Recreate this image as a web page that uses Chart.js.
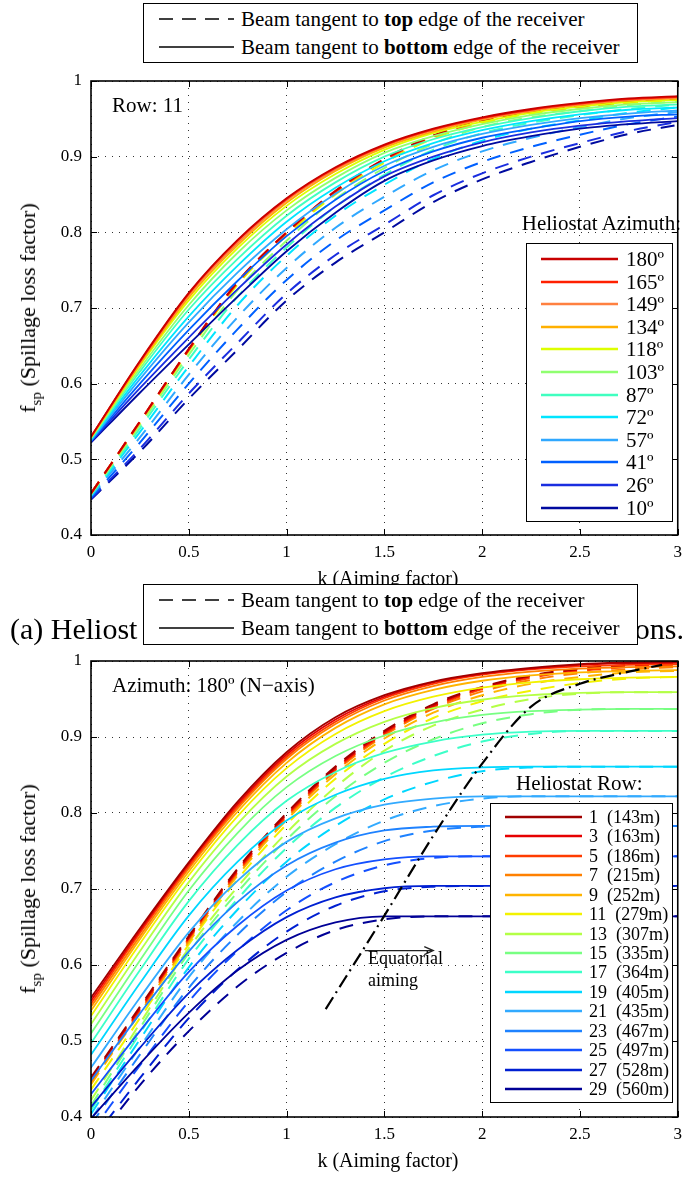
<!DOCTYPE html>
<html>
<head>
<meta charset="utf-8">
<script src="https://cdn.jsdelivr.net/npm/chart.js@4.4.1/dist/chart.umd.min.js"></script>
<style>
body { margin: 0; background: #fff; }
#page { position: relative; width: 689px; height: 1177px; overflow: hidden; font-family: "Liberation Serif", "Times New Roman", serif; color: #000; }
canvas { position: absolute; left: 0; }
.box { position: absolute; background: #fff; border: 1.5px solid #000; box-sizing: border-box; z-index: 3; }
.txt { position: absolute; white-space: pre; line-height: 1; z-index: 2; }
.mid { transform: translateY(-50%); }
.ylab { position: absolute; white-space: pre; font-size: 22px; transform: translate(-50%, -50%) rotate(-90deg); z-index: 2; }
.ylab sub { font-size: 15px; vertical-align: -6px; }
.xlab { position: absolute; font-size: 20px; transform: translate(-50%, -50%); white-space: pre; z-index: 2; }
.row { position: absolute; left: 0; width: 100%; height: 0; }
.row svg { position: absolute; top: -3px; }
.row span { position: absolute; transform: translateY(-50%); white-space: pre; line-height: 1; }
#caption { position: absolute; left: 10px; width: 674px; top: 629px; transform: translateY(-50%); font-size: 30px; display: flex; justify-content: space-between; white-space: pre; z-index: 2; }
</style>
</head>
<body>
<div id="page">
  <canvas id="topChart" width="689" height="600" style="top:0"></canvas>
  <canvas id="bottomChart" width="689" height="577" style="top:600px"></canvas>

  <div class="box" id="keyTop" style="left:143px;top:3px;width:495px;height:60px"></div>
  <div id="caption"><span>(a) Heliost</span><span>ats at different azimuth posit</span><span>ions.</span></div>
  <div class="box" id="keyBottom" style="left:143px;top:584px;width:495px;height:61px"></div>

  <div class="ylab" style="left:30px;top:308px">f<sub>sp</sub> (Spillage loss factor)</div>
  <div class="ylab" style="left:30px;top:889px">f<sub>sp</sub> (Spillage loss factor)</div>
  <div class="xlab" style="left:388px;top:578px">k (Aiming factor)</div>
  <div class="xlab" style="left:388px;top:1160px">k (Aiming factor)</div>

  <div class="txt mid" style="left:112px;top:105px;font-size:21px">Row: 11</div>
  <div class="txt mid" style="right:8px;top:223px;font-size:21px">Heliostat Azimuth:</div>
  <div class="box" id="legendAz" style="left:526px;top:243px;width:147px;height:279px"></div>

  <div class="txt mid" style="left:112px;top:685px;font-size:21px">Azimuth: 180º (N−axis)</div>
  <div class="txt mid" style="left:516px;top:783px;font-size:21px">Heliostat Row:</div>
  <div class="box" id="legendRow" style="left:490px;top:803px;width:183px;height:300px"></div>
  <div class="txt mid" style="left:368px;top:958px;font-size:18px">Equatorial</div>
  <div class="txt mid" style="left:368px;top:980px;font-size:18px">aiming</div>
</div>

<script>
// aiming factor k, shared by every curve
var kValues = [0, 0.25, 0.5, 0.75, 1, 1.25, 1.5, 1.75, 2, 2.25, 2.5, 2.75, 3];

// ---- (a) Row 11, several heliostat azimuths ----
var azLabels = ['180º','165º','149º','134º','118º','103º','87º','72º','57º','41º','26º','10º'];
var azColors = ['#C80000','#FF2000','#FF8040','#FFB000','#DDFF00','#90FF70','#40FFC0','#00E5FF','#30A8FF','#0060FF','#1A2EE0','#000A9F'];

// beam tangent to bottom edge (solid)
var azSolid180 = [0.530,0.630,0.720,0.790,0.845,0.886,0.916,0.937,0.952,0.963,0.971,0.977,0.980];
var azSolid165 = [0.530,0.629,0.719,0.789,0.844,0.885,0.915,0.936,0.951,0.962,0.970,0.976,0.979];
var azSolid149 = [0.530,0.628,0.717,0.786,0.842,0.883,0.914,0.935,0.950,0.961,0.969,0.975,0.978];
var azSolid134 = [0.529,0.626,0.714,0.783,0.839,0.881,0.912,0.933,0.949,0.960,0.968,0.974,0.977];
var azSolid118 = [0.529,0.624,0.710,0.779,0.835,0.877,0.909,0.931,0.946,0.958,0.966,0.972,0.975];
var azSolid103 = [0.528,0.620,0.704,0.773,0.829,0.872,0.905,0.927,0.943,0.955,0.963,0.969,0.972];
var azSolid87  = [0.527,0.616,0.698,0.765,0.822,0.866,0.900,0.923,0.939,0.951,0.960,0.966,0.969];
var azSolid72  = [0.526,0.611,0.689,0.756,0.814,0.859,0.894,0.918,0.935,0.947,0.956,0.962,0.965];
var azSolid57  = [0.525,0.606,0.681,0.747,0.804,0.851,0.888,0.913,0.930,0.942,0.951,0.957,0.961];
var azSolid41  = [0.524,0.600,0.671,0.736,0.795,0.843,0.881,0.907,0.925,0.937,0.947,0.953,0.956];
var azSolid26  = [0.523,0.594,0.661,0.725,0.784,0.834,0.874,0.900,0.919,0.932,0.941,0.947,0.951];
var azSolid10  = [0.522,0.588,0.652,0.715,0.775,0.826,0.868,0.895,0.914,0.927,0.937,0.943,0.947];

// beam tangent to top edge (dashed)
var azDash180 = [0.455,0.550,0.646,0.735,0.800,0.855,0.897,0.928,0.948,0.960,0.967,0.973,0.977];
var azDash165 = [0.455,0.550,0.645,0.734,0.800,0.854,0.896,0.927,0.948,0.960,0.967,0.973,0.977];
var azDash149 = [0.455,0.549,0.645,0.734,0.799,0.854,0.896,0.927,0.947,0.959,0.966,0.973,0.977];
var azDash134 = [0.455,0.549,0.645,0.733,0.798,0.853,0.895,0.926,0.946,0.959,0.966,0.972,0.976];
var azDash118 = [0.455,0.548,0.643,0.731,0.796,0.850,0.892,0.924,0.944,0.957,0.964,0.971,0.975];
var azDash103 = [0.454,0.545,0.638,0.724,0.789,0.844,0.885,0.917,0.939,0.952,0.960,0.968,0.973];
var azDash87  = [0.453,0.541,0.632,0.715,0.780,0.834,0.876,0.909,0.931,0.945,0.955,0.963,0.969];
var azDash72  = [0.452,0.536,0.623,0.704,0.769,0.822,0.863,0.897,0.921,0.937,0.948,0.958,0.965];
var azDash57  = [0.451,0.529,0.612,0.688,0.753,0.806,0.847,0.882,0.907,0.925,0.939,0.951,0.959];
var azDash41  = [0.449,0.522,0.600,0.672,0.737,0.789,0.829,0.866,0.893,0.913,0.929,0.943,0.953];
var azDash26  = [0.448,0.514,0.587,0.654,0.719,0.770,0.810,0.849,0.878,0.900,0.918,0.934,0.946];
var azDash10  = [0.447,0.510,0.580,0.645,0.710,0.760,0.800,0.840,0.870,0.893,0.913,0.930,0.942];

// ---- (b) Azimuth 180º, several rows ----
var rowLabels = ['1  (143m)','3  (163m)','5  (186m)','7  (215m)','9  (252m)','11  (279m)','13  (307m)','15  (335m)','17  (364m)','19  (405m)','21  (435m)','23  (467m)','25  (497m)','27  (528m)','29  (560m)'];
var rowColors = ['#A00000','#E60000','#FF3C00','#FF8000','#FFB400','#F2F200','#B4FF46','#78FF82','#3CFFC8','#00D7FF','#32AAFF','#1E82FF','#1450FF','#0020D2','#000096'];

var rowSolid1  = [0.557,0.648,0.735,0.815,0.880,0.926,0.955,0.973,0.984,0.991,0.996,0.998,0.999];
var rowSolid3  = [0.553,0.645,0.733,0.812,0.877,0.923,0.953,0.972,0.983,0.990,0.995,0.997,0.998];
var rowSolid5  = [0.549,0.642,0.730,0.809,0.874,0.920,0.951,0.970,0.982,0.989,0.993,0.995,0.996];
var rowSolid7  = [0.545,0.638,0.727,0.806,0.871,0.917,0.948,0.967,0.979,0.986,0.990,0.992,0.993];
var rowSolid9  = [0.540,0.634,0.723,0.802,0.866,0.912,0.943,0.962,0.974,0.981,0.985,0.987,0.988];
var rowSolid11 = [0.533,0.628,0.718,0.796,0.859,0.904,0.934,0.953,0.965,0.972,0.976,0.978,0.979];
var rowSolid13 = [0.522,0.618,0.709,0.786,0.848,0.891,0.920,0.938,0.949,0.955,0.958,0.959,0.959];
var rowSolid15 = [0.510,0.606,0.698,0.774,0.834,0.875,0.902,0.919,0.929,0.934,0.936,0.937,0.937];
var rowSolid17 = [0.497,0.593,0.684,0.758,0.816,0.854,0.879,0.894,0.903,0.907,0.908,0.908,0.908];
var rowSolid19 = [0.482,0.576,0.665,0.736,0.790,0.824,0.845,0.856,0.860,0.861,0.861,0.861,0.861];
var rowSolid21 = [0.465,0.557,0.643,0.711,0.762,0.793,0.811,0.819,0.822,0.822,0.822,0.822,0.822];
var rowSolid23 = [0.448,0.536,0.618,0.683,0.731,0.761,0.777,0.782,0.783,0.783,0.783,0.783,0.783];
var rowSolid25 = [0.430,0.513,0.591,0.652,0.698,0.726,0.739,0.743,0.743,0.743,0.743,0.743,0.743];
var rowSolid27 = [0.413,0.491,0.563,0.620,0.663,0.689,0.701,0.704,0.704,0.704,0.704,0.704,0.704];
var rowSolid29 = [0.398,0.470,0.537,0.593,0.633,0.656,0.664,0.664,0.664,0.664,0.664,0.664,0.664];

var rowDash1  = [0.452,0.545,0.638,0.727,0.800,0.861,0.908,0.943,0.966,0.981,0.990,0.995,0.998];
var rowDash3  = [0.450,0.543,0.636,0.725,0.798,0.859,0.906,0.941,0.965,0.980,0.989,0.994,0.997];
var rowDash5  = [0.448,0.541,0.635,0.723,0.796,0.857,0.904,0.939,0.963,0.978,0.987,0.992,0.995];
var rowDash7  = [0.446,0.539,0.633,0.721,0.794,0.855,0.902,0.937,0.960,0.975,0.984,0.989,0.992];
var rowDash9  = [0.443,0.537,0.630,0.718,0.791,0.851,0.898,0.932,0.955,0.970,0.979,0.985,0.987];
var rowDash11 = [0.436,0.530,0.627,0.713,0.785,0.845,0.891,0.925,0.947,0.961,0.971,0.977,0.979];
var rowDash13 = [0.422,0.523,0.622,0.703,0.774,0.834,0.882,0.915,0.936,0.950,0.957,0.959,0.959];
var rowDash15 = [0.415,0.517,0.616,0.696,0.765,0.822,0.866,0.897,0.918,0.930,0.936,0.937,0.937];
var rowDash17 = [0.409,0.510,0.608,0.687,0.754,0.807,0.847,0.875,0.894,0.904,0.908,0.908,0.908];
var rowDash19 = [0.404,0.502,0.597,0.673,0.736,0.783,0.818,0.841,0.855,0.860,0.861,0.861,0.861];
var rowDash21 = [0.397,0.492,0.584,0.657,0.716,0.759,0.790,0.809,0.819,0.822,0.822,0.822,0.822];
var rowDash23 = [0.390,0.482,0.570,0.640,0.696,0.736,0.763,0.777,0.782,0.783,0.783,0.783,0.783];
var rowDash25 = [0.380,0.468,0.552,0.619,0.672,0.709,0.731,0.741,0.743,0.743,0.743,0.743,0.743];
var rowDash27 = [0.368,0.451,0.530,0.594,0.644,0.678,0.697,0.703,0.704,0.704,0.704,0.704,0.704];
var rowDash29 = [0.360,0.442,0.513,0.572,0.616,0.646,0.660,0.664,0.664,0.664,0.664,0.664,0.664];

// equatorial aiming curve
var eqK = [1.20, 1.50, 1.75, 2.00, 2.25, 2.50, 2.75, 2.92];
var eqV = [0.542, 0.665, 0.770, 0.865, 0.940, 0.970, 0.986, 0.995];

// arrow under "Equatorial aiming" (data coords)
var arrowK = [1.40, 1.75];
var arrowV = 0.619;

var azSolid = [azSolid180, azSolid165, azSolid149, azSolid134, azSolid118, azSolid103, azSolid87, azSolid72, azSolid57, azSolid41, azSolid26, azSolid10];
var azDash = [azDash180, azDash165, azDash149, azDash134, azDash118, azDash103, azDash87, azDash72, azDash57, azDash41, azDash26, azDash10];
var rowSolid = [rowSolid1, rowSolid3, rowSolid5, rowSolid7, rowSolid9, rowSolid11, rowSolid13, rowSolid15, rowSolid17, rowSolid19, rowSolid21, rowSolid23, rowSolid25, rowSolid27, rowSolid29];
var rowDash = [rowDash1, rowDash3, rowDash5, rowDash7, rowDash9, rowDash11, rowDash13, rowDash15, rowDash17, rowDash19, rowDash21, rowDash23, rowDash25, rowDash27, rowDash29];

var DASH = [14, 10];

function pts(xs, ys) {
	return xs.map(function (x, i) { return { x: x, y: ys[i] }; });
}

function buildSets(solids, dashes, colors) {
	var sets = [];
	for (var i = 0; i < solids.length; i++) {
		sets.push({ data: pts(kValues, solids[i]), borderColor: colors[i], borderWidth: 1.8 });
	}
	for (var i = 0; i < dashes.length; i++) {
		sets.push({ data: pts(kValues, dashes[i]), borderColor: colors[i], borderWidth: 2, borderDash: DASH });
	}
	return sets;
}

// box round the axes + inward ticks, matlab style
var framePlugin = {
	id: 'frame',
	afterDraw: function (chart) {
		var ctx = chart.ctx, a = chart.chartArea, sx = chart.scales.x, sy = chart.scales.y;
		ctx.save();
		ctx.strokeStyle = '#000';
		ctx.lineWidth = 1;
		sx.ticks.forEach(function (t) {
			var px = Math.round(sx.getPixelForValue(t.value)) + 0.5;
			ctx.beginPath();
			ctx.moveTo(px, a.bottom); ctx.lineTo(px, a.bottom - 6);
			ctx.moveTo(px, a.top); ctx.lineTo(px, a.top + 6);
			ctx.stroke();
		});
		sy.ticks.forEach(function (t) {
			var py = Math.round(sy.getPixelForValue(t.value)) + 0.5;
			ctx.beginPath();
			ctx.moveTo(a.left, py); ctx.lineTo(a.left + 6, py);
			ctx.moveTo(a.right, py); ctx.lineTo(a.right - 6, py);
			ctx.stroke();
		});
		ctx.lineWidth = 1.6;
		ctx.strokeRect(a.left, a.top, a.right - a.left, a.bottom - a.top);
		ctx.restore();
	}
};

var arrowPlugin = {
	id: 'arrow',
	afterDatasetsDraw: function (chart) {
		var ctx = chart.ctx, sx = chart.scales.x, sy = chart.scales.y;
		var x0 = sx.getPixelForValue(arrowK[0]), x1 = sx.getPixelForValue(arrowK[1]);
		var y = sy.getPixelForValue(arrowV);
		ctx.save();
		ctx.strokeStyle = '#222';
		ctx.lineWidth = 1.3;
		ctx.beginPath();
		ctx.moveTo(x0, y); ctx.lineTo(x1, y);
		ctx.moveTo(x1 - 9, y - 4); ctx.lineTo(x1, y); ctx.lineTo(x1 - 9, y + 4);
		ctx.stroke();
		ctx.restore();
	}
};

function fmt(v) { return String(Math.round(v * 10) / 10); }

function makeOptions(padTop, padBottom) {
	var tickFont = { family: '"Liberation Serif", serif', size: 17 };
	return {
		responsive: false,
		animation: false,
		devicePixelRatio: 1,
		layout: { padding: { top: padTop, right: 3, bottom: padBottom, left: 0 } },
		plugins: { legend: { display: false }, tooltip: { enabled: false } },
		elements: { point: { radius: 0 }, line: { cubicInterpolationMode: 'monotone' } },
		scales: {
			x: {
				type: 'linear', min: 0, max: 3,
				ticks: { stepSize: 0.5, color: '#000', font: tickFont, padding: 7, maxRotation: 0, callback: fmt },
				grid: { color: 'rgba(0,0,0,0.8)', lineWidth: 1, drawTicks: false },
				border: { display: false, dash: [1, 6] },
				afterFit: function (s) { s.height = 40; }
			},
			y: {
				type: 'linear', min: 0.4, max: 1,
				ticks: { stepSize: 0.1, color: '#000', font: tickFont, padding: 9, callback: fmt },
				grid: { color: 'rgba(0,0,0,0.8)', lineWidth: 1, drawTicks: false },
				border: { display: false, dash: [1, 6] },
				afterFit: function (s) { s.width = 91; }
			}
		}
	};
}

// chart (a)
new Chart(document.getElementById('topChart'), {
	type: 'line',
	data: { datasets: buildSets(azSolid, azDash, azColors) },
	options: makeOptions(81, 25),
	plugins: [framePlugin]
});

// chart (b)
var setsB = buildSets(rowSolid, rowDash, rowColors);
setsB.unshift({ data: pts(eqK, eqV), borderColor: '#000', borderWidth: 2.2, borderDash: [14, 5, 2, 5] });
new Chart(document.getElementById('bottomChart'), {
	type: 'line',
	data: { datasets: setsB },
	options: makeOptions(61, 20),
	plugins: [framePlugin, arrowPlugin]
});

// legends as html
function lineSvg(color, dashed, width, x0, x1) {
	return '<svg width="' + (x1 + 2) + '" height="6" style="left:0"><line x1="' + x0 + '" y1="3" x2="' + x1 + '" y2="3" stroke="' + color +
		'" stroke-width="' + width + '"' + (dashed ? ' stroke-dasharray="14 9"' : '') + '/></svg>';
}

function fillKey(id) {
	var el = document.getElementById(id);
	var html = '';
	html += '<div class="row" style="top:15px">' + lineSvg('#000', true, 1.3, 15, 90) +
		'<span style="left:97px;font-size:21px">Beam tangent to <b>top</b> edge of the receiver</span></div>';
	html += '<div class="row" style="top:43px">' + lineSvg('#000', false, 1.3, 15, 90) +
		'<span style="left:97px;font-size:21px">Beam tangent to <b>bottom</b> edge of the receiver</span></div>';
	el.innerHTML = html;
}
fillKey('keyTop');
fillKey('keyBottom');

function fillLegend(id, labels, colors, first, step, textLeft, fontSize) {
	var el = document.getElementById(id);
	var html = '';
	for (var i = 0; i < labels.length; i++) {
		html += '<div class="row" style="top:' + (first + i * step) + 'px">' + lineSvg(colors[i], false, 2.6, 14, 91) +
			'<span style="left:' + textLeft + 'px;font-size:' + fontSize + 'px">' + labels[i] + '</span></div>';
	}
	el.innerHTML = html;
}
fillLegend('legendAz', azLabels, azColors, 15, 22.6, 99, 21);
fillLegend('legendRow', rowLabels, rowColors, 13, 19.43, 98, 18);
</script>
</body>
</html>
